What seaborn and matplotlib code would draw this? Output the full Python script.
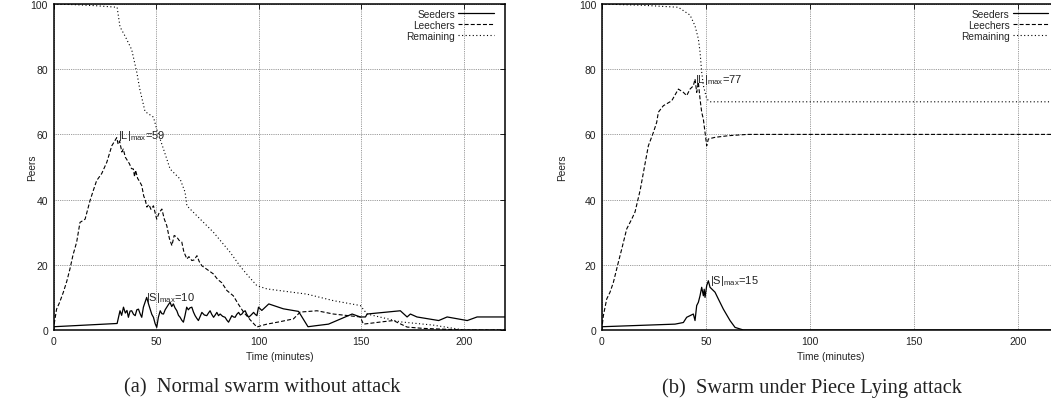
import matplotlib
matplotlib.use("Agg")
import matplotlib.pyplot as plt
import seaborn as sns

# ---------------- data ----------------
# (a) Normal swarm without attack
a_seed_t = [0, 31, 32.4, 33.2, 34.1, 35, 35.8, 36.5, 37.3, 38.1, 39, 39.8, 40.6, 41.4, 42.2, 43.0,
            43.8, 44.6, 45.4, 46.3, 47.1, 47.9, 48.7, 49.5, 50.3, 51.1, 52.0, 52.8, 53.6, 54.4, 55.2,
            56.0, 56.8, 57.6, 58.4, 59.2, 60.1, 60.9, 61.7, 62.5, 63.3, 64.1, 64.9, 65.7, 66.5, 67.4,
            68.2, 69.0, 69.8, 70.6, 71.5, 72.3, 73.5, 74.7, 75.5, 76.3, 77.1, 78.0, 78.8, 79.6, 80.4,
            81.2, 82.4, 83.6, 84.5, 85.3, 86.1, 86.9, 87.7, 88.5, 89.3, 90.2, 91.0, 91.8, 92.6, 93.4,
            94.2, 95.1, 96.3, 97.5, 98.3, 99.1, 99.9, 101.5, 104.9, 112, 119.4, 124, 127.6, 134,
            145.5, 149.5, 152, 152.8, 169, 172.3, 173.9, 177.1, 187.7, 191.8, 201.6, 206.4, 220]
a_seed = [1, 2, 5.9, 4.5, 7.0, 5.2, 6.0, 3.9, 5.8, 5.9, 4.8, 4.4, 6.2, 6.4, 5.0, 3.9,
          7.0, 8.5, 10.0, 8.0, 6.4, 4.8, 3.9, 2.0, 0.8, 3.9, 5.9, 5.0, 4.9, 6.2, 7.0,
          7.8, 8.5, 7.2, 8.0, 6.8, 5.9, 4.5, 3.9, 3.0, 2.4, 4.5, 7.0, 6.2, 6.8, 7.0,
          5.5, 4.4, 3.6, 2.9, 4.2, 5.4, 4.6, 4.4, 5.2, 5.9, 4.8, 3.9, 4.6, 5.4, 4.4,
          4.9, 4.2, 3.9, 3.0, 2.4, 3.4, 4.4, 4.0, 3.9, 4.8, 5.4, 4.6, 4.9, 5.6, 5.9,
          4.8, 3.9, 4.6, 5.4, 4.8, 4.4, 7.0, 6.0, 8.0, 6.5, 5.7, 1.0, 1.3, 1.8,
          4.9, 4.0, 4.0, 4.9, 5.9, 4.0, 4.9, 4.0, 2.9, 4.0, 2.9, 4.0, 4.0]

a_leech_t = [0, 0.5, 1.5, 3, 4.8, 6.5, 8, 9.5, 11.3, 12.9, 15.4, 17.8, 19.5, 21, 23.5, 26, 28.4,
             30.8, 31.5, 32.2, 33.3, 34, 35, 36, 37, 38, 38.9, 39.5, 40, 41, 42, 43, 44, 44.6,
             45.5, 46.5, 47.5, 48.7, 49.5, 50.3, 51.5, 52.8, 54, 55.2, 56.5, 57.7, 58.8, 60.1,
             61.2, 62.5, 63.5, 65, 66, 67.4, 68.5, 69.9, 71, 72.3, 75, 77.9, 80, 82, 84.5, 87.6,
             90, 92.6, 96, 99.1, 101, 104, 110, 116.9, 120.2, 128.4, 136.4, 149.5, 151, 160,
             165.6, 172.3, 180, 200, 220]
a_leech = [0, 2.5, 6.4, 8.5, 11.6, 15, 18.7, 23, 27, 33, 34, 39.7, 43, 45.8, 48, 51.5, 56.5,
           59, 57, 58, 54.6, 55.5, 53, 52, 51, 49.5, 49.4, 47, 49, 46.5, 45.5, 44.3, 41, 40.2,
           37.7, 38.5, 37, 38.1, 36, 34, 36, 37.1, 34, 32, 28, 25.9, 29, 28.5,
           27.5, 27, 24, 21.8, 22.5, 21.3, 21.5, 22.8, 21, 19.7, 18.5, 17.2, 15.5, 14.5, 12.1, 10.5,
           8, 5.5, 3, 0.9, 1.3, 1.8, 2.5, 3.4, 5.5, 5.9, 4.9, 4.0, 1.8, 2.5,
           2.9, 0.9, 0.5, 0, 0]

a_rem_t = [0, 10, 20, 31, 32.4, 35, 38.1, 40.6, 42, 44.6, 48.7, 50.3, 53.6, 56.8, 61.7, 64.1, 65,
           71.5, 77.9, 86, 90.9, 95, 99.1, 104, 123.5, 136.4, 149.5, 152.8, 169, 185, 200, 220]
a_rem = [100, 99.8, 99.5, 99, 93, 90, 86, 79, 74, 67, 65.3, 61.6, 55.5, 49.4, 46.3, 42.3, 38.1,
         34, 30, 23.9, 19.6, 16.5, 13.6, 12.6, 11, 9, 7.5, 4.9, 2.5, 1.5, 0, 0]

# (b) Swarm under Piece Lying attack
b_seed_t = [0, 35.2, 39.2, 40.8, 44, 44.8, 45.6, 46.4, 47.2, 48, 48.8, 49.2, 49.6, 50.4, 51.2,
            52, 54.4, 56, 58.4, 61.6, 64, 68, 220]
b_seed = [1, 1.8, 2.3, 3.9, 4.9, 2.9, 7.5, 8.5, 10.5, 13.1, 10.5, 12.5, 10, 13.6, 15.1,
          13.1, 11.6, 9.5, 6.4, 2.9, 0.8, 0, 0]

b_leech_t = [0, 0.8, 2.4, 4, 5.6, 8, 9.6, 12, 14.4, 16, 18.5, 20.8, 22.4, 24.8, 26.4, 27.2, 29.6,
             33.6, 36.8, 39.2, 40.8, 42.4, 44, 44.8, 45.6, 46.4, 47.2, 48, 48.8, 49.6, 50.4,
             51.2, 54.4, 60.8, 70, 220]
b_leech = [0, 4.4, 9.5, 11.6, 14.6, 20.8, 24.8, 31, 34, 36.2, 43, 51, 56.5, 60.6, 63.7, 66.8, 68.8,
           70.3, 73.9, 72.9, 71.9, 73.9, 74.9, 77, 72.9, 76, 70.9, 66.8, 64.7, 60.6, 56.5,
           58.6, 59.1, 59.6, 60, 60]

b_rem_t = [0, 20, 36.8, 42.4, 44.8, 46.4, 47.2, 48, 48.8, 50.4, 52, 220]
b_rem = [100, 99.6, 99, 96.6, 93.3, 89.3, 85.3, 79.1, 75, 70.9, 70, 70]

x_ticks = [0, 50, 100, 150, 200]
y_ticks = [0, 20, 40, 60, 80, 100]
series_names = ["Seeders", "Leechers", "Remaining"]
captions = ["(a)  Normal swarm without attack", "(b)  Swarm under Piece Lying attack"]

# ---------------- style ----------------
sns.set_theme(style="white")
plt.rcParams['font.family'] = ['Liberation Sans', 'DejaVu Sans']
plt.rcParams['mathtext.fontset'] = 'custom'
plt.rcParams['mathtext.rm'] = 'Liberation Sans'
plt.rcParams['mathtext.it'] = 'Liberation Sans:italic'

W, H = 1051, 402
fig = plt.figure(figsize=(W / 100, H / 100), dpi=100)

def px_axes(x0, x1, y_top, y_bot):
    return fig.add_axes([x0 / W, 1 - y_bot / H, (x1 - x0) / W, (y_bot - y_top) / H])

ax_a = px_axes(53.5, 505, 5, 331)
ax_b = px_axes(601.7, 1060, 5, 331)

styles = [dict(linestyle='-', lw=0.9),
          dict(linestyle=(0, (3.6, 1.9)), lw=0.8),
          dict(linestyle=(0, (1.0, 2.2)), lw=0.8)]

def draw(ax, data, annots, ylab_x):
    for (t, v), name, st in zip(data, series_names, styles):
        sns.lineplot(x=t, y=v, ax=ax, color='black', label=name, estimator=None,
                     sort=False, **st)
    ax.set_xlim(0, 220)
    ax.set_ylim(0, 100)
    ax.set_xticks(x_ticks)
    ax.set_yticks(y_ticks)
    ax.tick_params(direction='in', top=True, right=True, length=3.5, width=0.6,
                   labelsize=7.5, pad=4, colors='black', labelcolor='#222222')
    ax.grid(True, color='#7a7a7a', linestyle=(0, (1, 1.2)), lw=0.6)
    for s in ax.spines.values():
        s.set_color('black')
        s.set_linewidth(1.1)
    ax.set_xlabel("Time (minutes)", fontsize=7.3, color='#222222')
    ax.set_ylabel("Peers", fontsize=7.3, color='#222222')
    ax.xaxis.set_label_coords(0.5, -21.5 / 326)
    ax.yaxis.set_label_coords(ylab_x, 0.5)
    for (x, y, s) in annots:
        ax.text(x, y, s, fontsize=8, color='#222222', ha='left', va='baseline')
    ax.legend(loc='upper right', bbox_to_anchor=(1 - 11.5 / 451.5, 1 - 4.5 / 326),
              frameon=False, markerfirst=False, fontsize=7.3, handlelength=3.5,
              handletextpad=0.3, labelspacing=0.12, borderpad=0, borderaxespad=0)

draw(ax_a, [(a_seed_t, a_seed), (a_leech_t, a_leech), (a_rem_t, a_rem)],
     [(31.3, 58.8, r'$\mathregular{|L|_{max}}$=59'),
      (45.3, 9.3, r'$\mathregular{|S|_{max}}$=10')],
     -16.8 / 451.5)
draw(ax_b, [(b_seed_t, b_seed), (b_leech_t, b_leech), (b_rem_t, b_rem)],
     [(45.0, 76.0, r'$\mathregular{|L|_{max}}$=77'),
      (52.0, 14.3, r'$\mathregular{|S|_{max}}$=15')],
     -35.0 / 458.3)

fig.text(262 / W, 1 - 388 / H, captions[0], ha='center', va='center',
         fontsize=14.8, family='Liberation Serif', color='#222222')
fig.text(812 / W, 1 - 388 / H, captions[1], ha='center', va='center',
         fontsize=14.8, family='Liberation Serif', color='#222222')

fig.savefig("out.png", dpi=100)
